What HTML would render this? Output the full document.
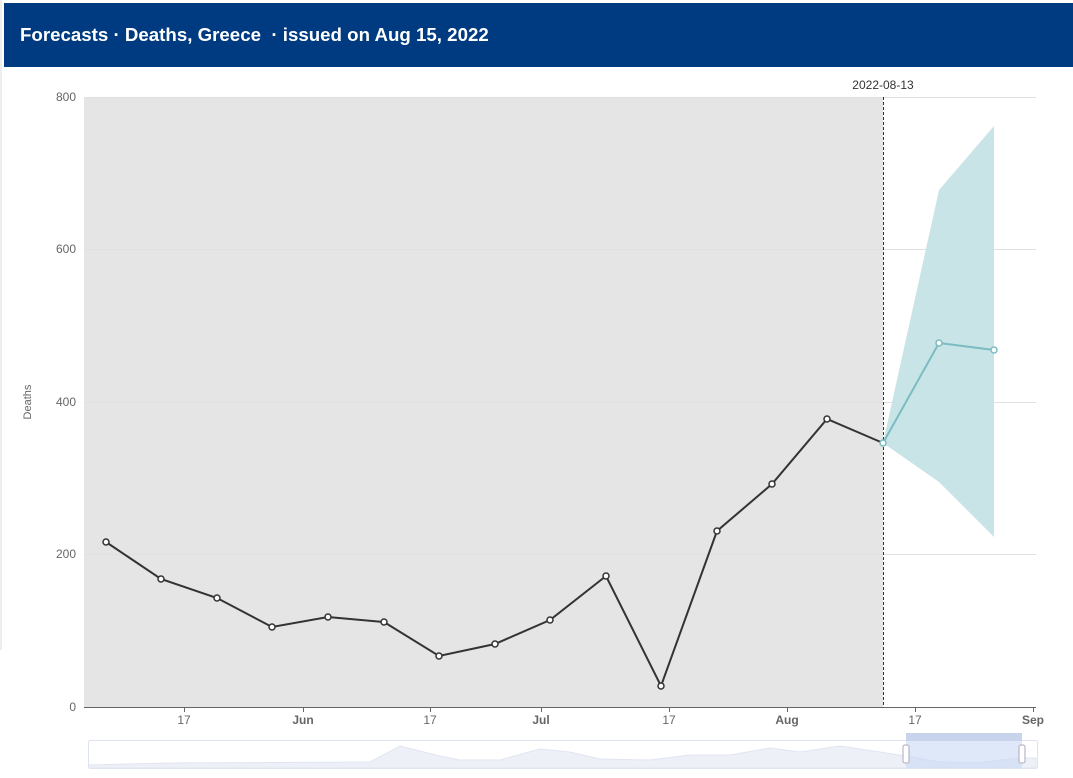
<!DOCTYPE html>
<html><head><meta charset="utf-8"><style>
body{margin:0;width:1073px;height:778px;background:#fff;overflow:hidden;font-family:"Liberation Sans",sans-serif;}
.hdr{position:absolute;left:4px;top:3px;width:1069px;height:64px;background:#003b82;color:#fff;font-size:18.7px;font-weight:bold;line-height:64px;text-indent:16px;}
</style></head><body>
<div style="position:absolute;left:0;top:0;width:2px;height:650px;background:#eee"></div>
<div class="hdr">Forecasts · Deaths, Greece &nbsp;· issued on Aug 15, 2022</div>
<svg style="position:absolute;left:0;top:0" width="1073" height="778">
<rect x="84" y="97" width="799" height="610" fill="#e5e5e5"/>
<g stroke="#e0e0e0" stroke-width="1">
<line x1="84" y1="97.5" x2="1036" y2="97.5"/><line x1="84" y1="249.5" x2="1036" y2="249.5"/>
<line x1="84" y1="402.5" x2="1036" y2="402.5"/><line x1="84" y1="554.5" x2="1036" y2="554.5"/>
</g>
<g font-size="12" fill="#666" text-anchor="end">
<text x="76" y="101">800</text><text x="76" y="253">600</text><text x="76" y="406">400</text><text x="76" y="558">200</text><text x="76" y="711">0</text>
</g>
<text x="31" y="402" font-size="11" fill="#666" text-anchor="middle" transform="rotate(-90 31 402)">Deaths</text>
<polygon points="883,443 939,190 994,126 994,537 939,482" fill="#c9e4e6"/>
<line x1="883.5" y1="97" x2="883.5" y2="707" stroke="#333" stroke-dasharray="3,2"/>
<text x="883" y="89" font-size="12" fill="#333" text-anchor="middle">2022-08-13</text>
<line x1="84" y1="707.5" x2="1036" y2="707.5" stroke="#666"/>
<g stroke="#666"><line x1="184.5" y1="707" x2="184.5" y2="712"/><line x1="303.5" y1="707" x2="303.5" y2="712"/><line x1="430.5" y1="707" x2="430.5" y2="712"/><line x1="541.5" y1="707" x2="541.5" y2="712"/><line x1="669.5" y1="707" x2="669.5" y2="712"/><line x1="787.5" y1="707" x2="787.5" y2="712"/><line x1="915.5" y1="707" x2="915.5" y2="712"/><line x1="1033.5" y1="707" x2="1033.5" y2="712"/></g>
<g font-size="12" fill="#666" text-anchor="middle">
<text x="184" y="724">17</text><text x="303" y="724" font-weight="bold">Jun</text><text x="430" y="724">17</text><text x="541" y="724" font-weight="bold">Jul</text><text x="669" y="724">17</text><text x="787" y="724" font-weight="bold">Aug</text><text x="915" y="724">17</text><text x="1033" y="724" font-weight="bold">Sep</text>
</g>
<polyline points="106,542 161,579 217,598 272,627 328,617 384,622 439,656 495,644 550,620 606,576 661,686 717,531 772,484 827,419 883,443" fill="none" stroke="#333" stroke-width="2"/>
<g fill="#fff" stroke="#333" stroke-width="1.5">
<circle cx="106" cy="542" r="3"/><circle cx="161" cy="579" r="3"/><circle cx="217" cy="598" r="3"/><circle cx="272" cy="627" r="3"/><circle cx="328" cy="617" r="3"/><circle cx="384" cy="622" r="3"/><circle cx="439" cy="656" r="3"/><circle cx="495" cy="644" r="3"/><circle cx="550" cy="620" r="3"/><circle cx="606" cy="576" r="3"/><circle cx="661" cy="686" r="3"/><circle cx="717" cy="531" r="3"/><circle cx="772" cy="484" r="3"/><circle cx="827" cy="419" r="3"/></g>
<polyline points="883,443 939,343 994,350" fill="none" stroke="#7bbcc2" stroke-width="2"/>
<g fill="#fff" stroke="#7bbcc2" stroke-width="1.5"><circle cx="883" cy="443" r="3"/><circle cx="939" cy="343" r="3"/><circle cx="994" cy="350" r="3"/></g>
<rect x="88.5" y="740.5" width="949" height="28" fill="none" stroke="#dde3f0" rx="2"/>
<path d="M89,765 L170,763 L370,762 L400,746 L440,756 L460,760 L500,760 L540,749 L570,752 L600,759 L650,760 L690,755 L730,755 L770,748 L800,752 L840,746 L880,752 L905,756 L940,762 L980,763 L1000,760 L1022,758 L1036,758 L1036,768 L89,768Z" fill="#eef0f7" stroke="#e1e5f2"/>
<rect x="906" y="733" width="116" height="35" fill="#c9d8f5" opacity="0.6"/>
<rect x="906" y="733" width="116" height="8" fill="#c8d3ec"/>
<rect x="903" y="745" width="6" height="18" rx="2" fill="#fff" stroke="#aab"/>
<rect x="1019" y="745" width="6" height="18" rx="2" fill="#fff" stroke="#aab"/>
</svg>
</body></html>
